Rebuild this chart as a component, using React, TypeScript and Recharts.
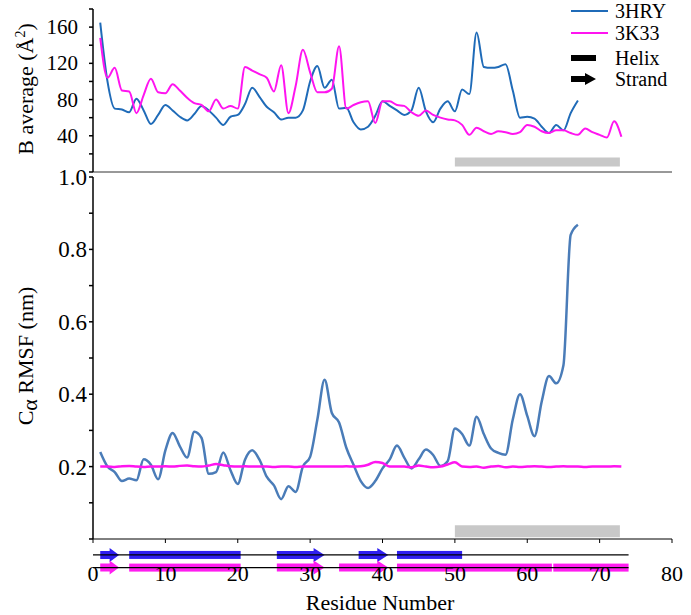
import {
  LineChart,
  Line,
  XAxis,
  YAxis,
  ReferenceArea,
  ReferenceLine,
} from "recharts";

// B-factor averages per residue (starting at residue 1)
const bAvg3HRY = [
  165, 100, 70, 69, 66, 81, 68, 53, 63, 74, 68, 61, 57, 64, 73, 68, 60, 52, 61,
  63, 75, 93, 83, 72, 66, 58, 60, 60, 68, 100, 117, 93, 102, 70, 71, 55, 47,
  50, 62, 78, 73, 68, 63, 68, 93, 67, 55, 70, 78, 67, 91, 86, 154, 116, 115,
  116, 119, 90, 60, 61, 59, 50, 43, 52, 46, 65, 79,
];
const bAvg3K33 = [
  148, 104, 115, 90, 89, 65, 85, 103, 88, 87, 97, 90, 82, 76, 74, 67, 80, 70,
  73, 70, 116, 112, 108, 104, 89, 118, 65, 95, 135, 110, 88, 88, 92, 139, 70,
  74, 77, 78, 54, 78, 78, 74, 73, 66, 62, 68, 63, 60, 58, 57, 52, 41, 49, 45,
  42, 45, 44, 42, 44, 52, 50, 45, 43, 46, 46, 43, 41, 48, 44, 41, 38, 56, 39,
];

// C-alpha RMSF (nm)
const rmsf3HRY = [
  0.24, 0.2, 0.185, 0.16, 0.167, 0.162, 0.22, 0.205, 0.165, 0.245, 0.293,
  0.256, 0.225, 0.296, 0.279, 0.18, 0.185, 0.239, 0.19, 0.152, 0.219, 0.245,
  0.219, 0.172, 0.148, 0.11, 0.146, 0.13, 0.2, 0.227, 0.33, 0.44, 0.348, 0.322,
  0.252, 0.205, 0.16, 0.141, 0.16, 0.195, 0.22, 0.258, 0.225, 0.195, 0.22,
  0.247, 0.232, 0.202, 0.215, 0.305, 0.29, 0.258, 0.338, 0.29, 0.25, 0.238,
  0.233, 0.33, 0.4, 0.34, 0.284, 0.38, 0.45, 0.43, 0.48, 0.84, 0.868,
];
const rmsf3K33 = [
  0.2, 0.2, 0.199, 0.201, 0.202, 0.2, 0.199, 0.2, 0.2, 0.201, 0.2, 0.202,
  0.203, 0.201, 0.2, 0.203, 0.207, 0.204, 0.201, 0.2, 0.201, 0.2, 0.2, 0.2,
  0.199, 0.2, 0.2, 0.199, 0.2, 0.2, 0.2, 0.2, 0.2, 0.2, 0.201, 0.2, 0.201,
  0.205, 0.213, 0.21, 0.2, 0.2, 0.2, 0.198, 0.203, 0.2, 0.198, 0.2, 0.206,
  0.212, 0.2, 0.199, 0.2, 0.197, 0.2, 0.202, 0.198, 0.2, 0.199, 0.2, 0.201,
  0.2, 0.199, 0.2, 0.201, 0.2, 0.2, 0.199, 0.2, 0.2, 0.2, 0.201, 0.2,
];

const seriesNames = ["3HRY", "3K33"];
const xTicks = [0, 10, 20, 30, 40, 50, 60, 70, 80];
const bTicks = [0, 20, 40, 60, 80, 100, 120, 140, 160, 180];
const rmsfTicks = [0, 0.1, 0.2, 0.3, 0.4, 0.5, 0.6, 0.7, 0.8, 0.9, 1.0];

// grey region (residues)
const greyRegion = [50, 72.8];

// secondary structure [start, end] in residues
const backbone = [0, 74];
const helix3HRY = [[5, 20.4], [42, 51]];
const strand3HRY = [[1, 3.6], [25.4, 32], [36.7, 40.8]];
const helix3K33 = [[5, 20.4], [42, 63.4], [63.6, 74]];
const strand3K33 = [[1, 3.6], [25.4, 32], [34, 40.8]];

const FONT = "Liberation Serif, DejaVu Serif, serif";
const BLUE_TOP = "#1f6bb8";
const BLUE_BOT = "#4a7cb8";
const MAGENTA = "#ff14f0";
const SS_BLUE = "#2f1ff0";
const SS_MAG = "#ff1cf0";
const txt = { fontFamily: FONT, fill: "#000" };

const topData = bAvg3K33.map((v, i) => ({
  residue: i + 1,
  hry: bAvg3HRY[i],
  k33: v,
}));
const botData = rmsf3K33.map((v, i) => ({
  residue: i + 1,
  hry: rmsf3HRY[i],
  k33: v,
}));

const HelixShape = (p: any) => {
  const cy = p.y + p.height / 2;
  return <rect x={p.x} y={cy - 4} width={p.width} height={8} fill={p.fill} />;
};

const StrandShape = (p: any) => {
  const cy = p.y + p.height / 2;
  const head = Math.min(11, p.width * 0.5);
  const x0 = p.x;
  const x1 = p.x + p.width - head;
  const x2 = p.x + p.width;
  const pts = [
    [x0, cy - 4],
    [x1, cy - 4],
    [x1, cy - 7],
    [x2, cy],
    [x1, cy + 7],
    [x1, cy + 4],
    [x0, cy + 4],
  ]
    .map((q) => q.join(","))
    .join(" ");
  return <polygon points={pts} fill={p.fill} />;
};

const LegendBox = () => (
  <svg width={120} height={95}>
    <line x1={6} x2={43} y1={11} y2={11} stroke={BLUE_TOP} strokeWidth={2} />
    <text x={50} y={18} fontSize={20} style={txt}>
      {seriesNames[0]}
    </text>
    <line x1={6} x2={43} y1={33} y2={33} stroke={MAGENTA} strokeWidth={2} />
    <text x={50} y={40} fontSize={20} style={txt}>
      {seriesNames[1]}
    </text>
    <rect x={6} y={55} width={25} height={6} fill="#000" />
    <text x={50} y={65} fontSize={20} style={txt}>
      Helix
    </text>
    <polygon points="6,76 20,76 20,73 31,79 20,85 20,82 6,82" fill="#000" />
    <text x={50} y={86} fontSize={20} style={txt}>
      Strand
    </text>
  </svg>
);

const bTick = (p: any) => {
  const v = Number(p.payload.value);
  if (v === 0 || v % 40 !== 0) return <g />;
  return (
    <text x={p.x} y={p.y} dy={7} textAnchor="end" fontSize={21} style={txt}>
      {v}
    </text>
  );
};

const rmsfTick = (p: any) => {
  const v = Number(p.payload.value);
  const k = Math.round(v * 10);
  if (k === 0 || k % 2 !== 0) return <g />;
  return (
    <text x={p.x} y={p.y} dy={8} textAnchor="end" fontSize={23} style={txt}>
      {v.toFixed(1)}
    </text>
  );
};

const xTick = (p: any) => (
  <text x={p.x} y={p.y} dy={36} textAnchor="middle" fontSize={22} style={txt}>
    {p.payload.value}
  </text>
);

const ssRows = [
  { level: -0.044, color: SS_BLUE, helices: helix3HRY, strands: strand3HRY },
  { level: -0.079, color: SS_MAG, helices: helix3K33, strands: strand3K33 },
];

export default function App() {
  return (
    <div
      style={{
        position: "absolute",
        left: 0,
        top: 0,
        width: 691,
        height: 615,
        background: "#fff",
        fontFamily: FONT,
      }}
    >
      <div style={{ position: "absolute", left: 0, top: 0 }}>
        <LineChart
          width={691}
          height={615}
          data={botData}
          margin={{ top: 177, right: 19, left: 0, bottom: 36 }}
        >
          <XAxis
            type="number"
            dataKey="residue"
            domain={[0, 80]}
            ticks={xTicks}
            interval={0}
            height={40}
            stroke="#000"
            tickSize={4}
            tick={xTick}
            label={() => (
              <text x={380} y={610} textAnchor="middle" fontSize={22} style={txt}>
                Residue Number
              </text>
            )}
          />
          <YAxis
            type="number"
            domain={[0, 1]}
            ticks={rmsfTicks}
            interval={0}
            width={93}
            stroke="#000"
            strokeWidth={1.5}
            tickSize={4}
            tickMargin={2}
            tick={rmsfTick}
            label={() => (
              <text
                x={33}
                y={356}
                transform="rotate(-90, 33, 356)"
                textAnchor="middle"
                fontSize={22}
                style={txt}
              >
                C<tspan dy={4}>α</tspan>
                <tspan dy={-4}> RMSF (nm)</tspan>
              </text>
            )}
          />
          <ReferenceArea
            x1={greyRegion[0]}
            x2={greyRegion[1]}
            y1={0.005}
            y2={0.038}
            fill="#c8c8c8"
            fillOpacity={1}
            stroke="none"
            ifOverflow="visible"
          />
          <Line
            type="monotone"
            dataKey="hry"
            stroke={BLUE_BOT}
            strokeWidth={2.5}
            dot={false}
            isAnimationActive={false}
          />
          <Line
            type="monotone"
            dataKey="k33"
            stroke={MAGENTA}
            strokeWidth={2.5}
            dot={false}
            isAnimationActive={false}
          />
          {ssRows.map((row) => (
            <ReferenceLine
              key={"bb" + row.level}
              segment={[
                { x: backbone[0], y: row.level },
                { x: backbone[1], y: row.level },
              ]}
              stroke="#000"
              strokeWidth={1.2}
              ifOverflow="visible"
            />
          ))}
          {ssRows.flatMap((row) =>
            row.helices.map((h, i) => (
              <ReferenceArea
                key={"h" + row.level + i}
                x1={h[0]}
                x2={h[1]}
                y1={row.level - 0.02}
                y2={row.level + 0.02}
                fill={row.color}
                fillOpacity={1}
                ifOverflow="visible"
                shape={(p: any) => <HelixShape {...p} fill={row.color} />}
              />
            ))
          )}
          {ssRows.flatMap((row) =>
            row.strands.map((s, i) => (
              <ReferenceArea
                key={"s" + row.level + i}
                x1={s[0]}
                x2={s[1]}
                y1={row.level - 0.02}
                y2={row.level + 0.02}
                fill={row.color}
                fillOpacity={1}
                ifOverflow="visible"
                shape={(p: any) => <StrandShape {...p} fill={row.color} />}
              />
            ))
          )}
        </LineChart>
      </div>
      <div style={{ position: "absolute", left: 0, top: 0 }}>
        <LineChart
          width={691}
          height={176}
          data={topData}
          margin={{ top: 9, right: 19, left: 0, bottom: 0 }}
        >
          <XAxis
            type="number"
            dataKey="residue"
            domain={[0, 80]}
            ticks={xTicks}
            interval={0}
            height={4}
            stroke="#333"
            tickSize={4}
            tick={false}
          />
          <YAxis
            type="number"
            domain={[0, 180]}
            ticks={bTicks}
            interval={0}
            width={93}
            stroke="#000"
            strokeWidth={1.5}
            tickSize={4}
            tickMargin={11}
            tick={bTick}
            label={() => (
              <text
                x={33}
                y={89}
                transform="rotate(-90, 33, 89)"
                textAnchor="middle"
                fontSize={22}
                style={txt}
              >
                B average (Å<tspan dy={-8} fontSize={14}>2</tspan>
                <tspan dy={8}>)</tspan>
              </text>
            )}
          />
          <ReferenceArea
            x1={greyRegion[0]}
            x2={greyRegion[1]}
            y1={6}
            y2={16}
            fill="#c8c8c8"
            fillOpacity={1}
            stroke="none"
          />
          <Line
            type="monotone"
            dataKey="hry"
            name={seriesNames[0]}
            stroke={BLUE_TOP}
            strokeWidth={2}
            dot={false}
            isAnimationActive={false}
          />
          <Line
            type="monotone"
            dataKey="k33"
            name={seriesNames[1]}
            stroke={MAGENTA}
            strokeWidth={2}
            dot={false}
            isAnimationActive={false}
          />
        </LineChart>
      </div>
      <div style={{ position: "absolute", left: 565, top: 0 }}>
        <LegendBox />
      </div>
    </div>
  );
}
